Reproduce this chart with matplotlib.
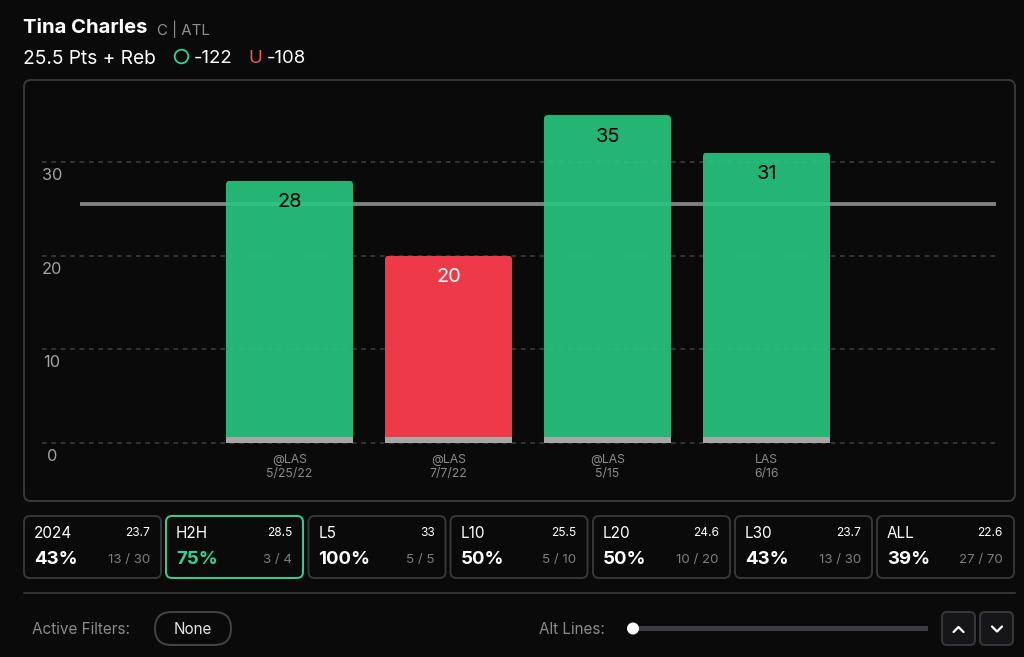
import matplotlib
matplotlib.use('Agg')
import matplotlib.pyplot as plt
from matplotlib.colors import to_rgba
from matplotlib.patches import FancyBboxPatch, Circle, Rectangle

W, H = 1024, 657
BG = '#0a0a0b'
GREEN = to_rgba('#27c880', 0.9)
RED = to_rgba('#f43c4a', 0.98)
ACCENT = '#2fd494'
EDGE = '#37383a'

plt.rcParams['font.family'] = ['Inter', 'DejaVu Sans']

# chart data
games = ['@LAS\n5/25/22', '@LAS\n7/7/22', '@LAS\n5/15', 'LAS\n6/16']
values = [28, 20, 35, 31]
prop_line = 25.5
y_ticks = [0, 10, 20, 30]

# split tiles under the chart
tile_names = ['2024', 'H2H', 'L5', 'L10', 'L20', 'L30', 'ALL']
tile_avgs = ['23.7', '28.5', '33', '25.5', '24.6', '23.7', '22.6']
tile_pcts = ['43%', '75%', '100%', '50%', '50%', '43%', '39%']
tile_counts = ['13 / 30', '3 / 4', '5 / 5', '5 / 10', '10 / 20', '13 / 30', '27 / 70']
active_tile = 'H2H'

fig = plt.figure(figsize=(W / 100, H / 100), dpi=100, facecolor=BG)

# overlay in pixel coordinates for the page furniture
ui = fig.add_axes([0, 0, 1, 1], zorder=1)
ui.set_xlim(0, W)
ui.set_ylim(H, 0)
ui.axis('off')


def round_box(x, y, w, h, r, fc='none', ec=EDGE, lw=1.4, z=1):
    ui.add_patch(FancyBboxPatch((x, y), w, h, boxstyle=f'round,pad=0,rounding_size={r}',
                                fc=fc, ec=ec, lw=lw, zorder=z))


# header
ui.text(23, 28, 'Tina Charles', color='white', fontsize=14.6, fontweight='bold', va='center')
ui.text(157, 29, 'C | ATL', color='#8f8f8f', fontsize=10.8, va='center')
ui.text(23, 58.5, '25.5 Pts + Reb', color='white', fontsize=13.8, va='center')
ui.add_patch(Circle((181.5, 56.5), 6.8, fc='none', ec=ACCENT, lw=1.3))
ui.text(194, 58.5, '-122', color='white', fontsize=13.4, va='center')
ui.text(255, 58.5, 'U', color='#f4515f', fontsize=13.4, va='center', ha='center')
ui.text(267, 58.5, '-108', color='white', fontsize=13.4, va='center')

# chart card
round_box(24, 80, 991, 421, 7)

# chart axes: 42..996 px wide, 80..500 px tall, y=0 at 443 px, bars 159 px apart
ax = fig.add_axes([42 / W, 1 - 500 / H, (996 - 42) / W, 420 / H], zorder=2)
ax.patch.set_alpha(0)
px_x = 159.0
px_y = 9.37
ax.set_xlim((42 - 289.5) / px_x, (996 - 289.5) / px_x)
ax.set_ylim(-57 / px_y, 363 / px_y)
for s in ax.spines.values():
    s.set_visible(False)
ax.tick_params(length=0)
ax.set_yticks([])

positions = list(range(len(values)))
for t in y_ticks:
    ax.axhline(t, color='#383838', lw=1.3, ls=(0, (2.6, 2.6)), zorder=1)
ax.plot([(80 - 289.5) / px_x, (996 - 289.5) / px_x], [prop_line, prop_line],
        color='#808080', lw=2.8, solid_capstyle='butt', zorder=2)

colors = [GREEN if v > prop_line else RED for v in values]
bars = ax.bar(positions, values, width=127 / px_x, color=colors, zorder=3)
for bar in bars:
    clip = FancyBboxPatch((bar.get_x(), 0), bar.get_width(), bar.get_height(),
                          boxstyle=f'round,pad=0,rounding_size={4 / px_x}',
                          mutation_aspect=px_x / px_y, transform=ax.transData)
    bar.set_clip_path(clip)
# grey footer strip at the base of each bar
ax.bar(positions, [0.65] * len(values), width=127 / px_x, color='#a6a6a6', zorder=4)

for p, v in zip(positions, values):
    ax.text(p, v - 2.3, str(v), color='white' if v < prop_line else 'black',
            fontsize=14.4, ha='center', va='center', zorder=5)

ax.set_xticks(positions)
ax.set_xticklabels(games, color='#8a8a8a', fontsize=8.8, linespacing=1.2)
ax.xaxis.set_tick_params(pad=-33)

for t in y_ticks:
    ui.text(52, 443 - t * px_y + 13.5, str(t), color='#a3a3a3', fontsize=11.8, ha='center', va='center')

# tiles
tile_x = [24, 166, 308.5, 450.5, 593, 735, 877]
tile_w = 137
for x, name, avg, pct, cnt in zip(tile_x, tile_names, tile_avgs, tile_pcts, tile_counts):
    active = name == active_tile
    round_box(x, 516, tile_w, 62, 6, ec=ACCENT if active else EDGE)
    ui.text(x + 10, 533, name, color='white', fontsize=11, va='center')
    ui.text(x + tile_w - 11, 532.5, avg, color='white', fontsize=8.6, va='center', ha='right')
    ui.text(x + 10, 559.5, pct, color=ACCENT if active else 'white', fontsize=13.4,
            fontweight='bold', va='center')
    ui.text(x + tile_w - 11, 560, cnt, color='#7d7d7d', fontsize=9.6, va='center', ha='right')

ui.plot([24, 1015], [592.5, 592.5], color='#3f3f3f', lw=1.1)

# bottom controls
ui.text(32, 630, 'Active Filters:', color='#8a8a8a', fontsize=11, va='center')
round_box(155, 612, 76, 33, 16.5, ec='#444444')
ui.text(193, 629.5, 'None', color='#e4e4e4', fontsize=11, va='center', ha='center')
ui.text(539, 630, 'Alt Lines:', color='#8a8a8a', fontsize=11, va='center')
ui.add_patch(Rectangle((633, 626), 295, 5, fc='#3d3d3f', ec='none'))
ui.add_patch(Circle((633, 628.5), 6, fc='white', ec='none', zorder=3))
for x, chevron in ((942, [(953.5, 632), (958.5, 627), (963.5, 632)]),
                   (980, [(992, 626.5), (997, 631.5), (1002, 626.5)])):
    round_box(x, 612, 33, 33, 5, fc='#161618', ec=EDGE)
    ui.plot(*zip(*chevron), color='white', lw=1.6, solid_capstyle='round', zorder=3)

fig.savefig('out.png', dpi=100, facecolor=BG)
